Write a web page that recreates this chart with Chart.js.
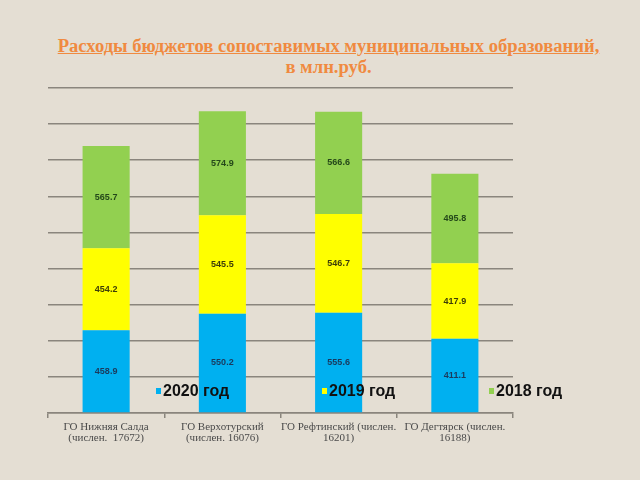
<!DOCTYPE html>
<html>
<head>
<meta charset="utf-8">
<script src="https://cdn.jsdelivr.net/npm/chart.js@4"></script>
<style>
  html, body { margin: 0; padding: 0; background: #e4ded3; }
  #wrap { position: relative; width: 640px; height: 480px; }
  #title {
    position: absolute; left: 0; top: 35px; width: 657px;
    text-align: center; color: #f08a40;
    font: bold 18.6px "Liberation Serif", serif; line-height: 21px;
  }
  #title span { text-decoration: underline; }
  canvas { position: absolute; left: 0; top: 0; }
</style>
</head>
<body>
<div id="wrap">
  <div id="title"><span>Расходы бюджетов сопоставимых муниципальных образований,</span><br>в млн.руб.</div>
  <canvas id="myChart" width="640" height="480"></canvas>
</div>
<script>
const categories = [
    ["ГО Нижняя Салда", "(числен.  17672)"],
    ["ГО Верхотурский", "(числен. 16076)"],
    ["ГО Рефтинский (числен.", "16201)"],
    ["ГО Дегтярск (числен.", "16188)"]
]
const seriesNames = ["2020 год", "2019 год", "2018 год"]
const values2020 = [458.9, 550.2, 555.6, 411.1]
const values2019 = [454.2, 545.5, 546.7, 417.9]
const values2018 = [565.7, 574.9, 566.6, 495.8]
const seriesColors = ["#00b0f0", "#ffff00", "#92d050"]
const labelColors = ["#1b3a5c", "#3d3d08", "#24481a"]

const ctx = document.querySelector("#myChart").getContext("2d")

// value labels in the middle of each segment
const segmentLabels = {
    id: "segmentLabels",
    afterDatasetsDraw(chart) {
        const c = chart.ctx
        c.save()
        c.font = "bold 9px 'Liberation Sans', sans-serif"
        c.textAlign = "center"
        c.textBaseline = "middle"
        chart.data.datasets.forEach((ds, i) => {
            const meta = chart.getDatasetMeta(i)
            meta.data.forEach((bar, j) => {
                const mid = (bar.y + bar.base) / 2
                c.fillStyle = labelColors[i]
                c.fillText(ds.data[j].toFixed(1), bar.x, mid)
            })
        })
        c.restore()
    }
}

// legend sits inside the plot, over the bars
const innerLegend = {
    id: "innerLegend",
    afterDraw(chart) {
        const c = chart.ctx
        const xs = [156, 322, 489]
        const y = 391
        c.save()
        c.font = "bold 16px 'Liberation Sans', sans-serif"
        c.textBaseline = "middle"
        c.textAlign = "left"
        chart.data.datasets.forEach((ds, i) => {
            c.fillStyle = ds.backgroundColor
            c.fillRect(xs[i], y - 3, 5, 6)
            c.fillStyle = "#111"
            c.fillText(ds.label, xs[i] + 7, y + 1)
        })
        c.restore()
    }
}

const myChart = new Chart(ctx, {
    type: "bar",
    data: {
        labels: categories,
        datasets: [
            { label: seriesNames[0], data: values2020, backgroundColor: seriesColors[0] },
            { label: seriesNames[1], data: values2019, backgroundColor: seriesColors[1] },
            { label: seriesNames[2], data: values2018, backgroundColor: seriesColors[2] }
        ]
    },
    options: {
        responsive: false,
        animation: false,
        layout: { padding: { left: 48, right: 127, top: 88, bottom: 0 } },
        datasets: {
            bar: { categoryPercentage: 1, barPercentage: 0.405 }
        },
        plugins: {
            legend: { display: false },
            title: { display: false },
            tooltip: { enabled: false }
        },
        scales: {
            x: {
                stacked: true,
                grid: {
                    offset: true,
                    drawOnChartArea: false,
                    tickLength: 5,
                    color: "#8a857d",
                    lineWidth: 1.5
                },
                border: { color: "#8a857d", width: 1.5 },
                ticks: {
                    color: "#4a4a4a",
                    padding: 3,
                    maxRotation: 0,
                    autoSkip: false,
                    font: { family: "'Liberation Serif', serif", size: 11, lineHeight: 1.05 }
                },
                afterFit: (scale) => { scale.height = 67 }
            },
            y: {
                stacked: true,
                min: 0,
                max: 1800,
                ticks: { display: false, stepSize: 200 },
                grid: { color: "#8a857d", lineWidth: 1.5, drawTicks: false },
                border: { display: false },
                afterFit: (scale) => { scale.width = 0 }
            }
        }
    },
    plugins: [segmentLabels, innerLegend]
})
</script>
</body>
</html>
